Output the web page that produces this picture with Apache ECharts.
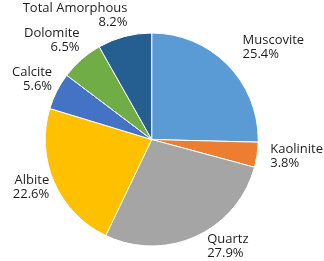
<!DOCTYPE html>
<html>
<head>
<meta charset="utf-8">
<script src="https://cdn.jsdelivr.net/npm/echarts@6/dist/echarts.min.js"></script>
<style>html,body{margin:0;padding:0;background:#fff;}#c{width:324px;height:261px;}</style>
</head>
<body>
<div id="c"></div>
<script>
const categories = ['Muscovite', 'Kaolinite', 'Quartz', 'Albite', 'Calcite', 'Dolomite', 'Total Amorphous'];
const percents = [25.4, 3.8, 27.9, 22.6, 5.6, 6.5, 8.2];
const colors = ['#5B9BD5', '#ED7D31', '#A5A5A5', '#FFC000', '#4472C4', '#70AD47', '#255E91'];

const W = 324, H = 261;
const CX = 151.7, CY = 139.5, R = 106.5;
const total = percents.reduce((a, b) => a + b, 0);

const chart = echarts.init(document.getElementById('c'), null, { renderer: 'canvas' });
chart.setOption({
  animation: false,
  series: [{
    type: 'pie',
    center: [CX, CY],
    radius: R,
    startAngle: 90,
    clockwise: true,
    avoidLabelOverlap: false,
    itemStyle: { borderColor: '#ffffff', borderWidth: 1 },
    label: {
      show: true,
      position: 'outside',
      fontFamily: 'Open Sans',
      fontSize: 13,
      lineHeight: 14,
      color: '#1e1e1e',
      formatter: p => p.name + '\n' + percents[p.dataIndex].toFixed(1) + '%'
    },
    labelLine: { show: false },
    emphasis: { disabled: true },
    labelLayout: function (params) {
      const i = params.dataIndex;
      let before = 0;
      for (let k = 0; k < i; k++) before += percents[k];
      const mid = (before + percents[i] / 2) / total * 2 * Math.PI;
      const dx = Math.sin(mid), dy = -Math.cos(mid);
      const w = params.labelRect.width, h = params.labelRect.height;
      const rr = R + 12;
      let x = CX + dx * rr + 6;
      let y = CY + dy * rr + Math.min(dy, 0) * h / 2;
      const align = dx >= 0 ? 'left' : 'right';
      if (align === 'left') { x = Math.min(x, W - w - 1); }
      else { x = Math.max(x, w + 1); }
      y = Math.max(h / 2 + 1, Math.min(H - h / 2 - 1, y));
      return { x: x, y: y, align: align, verticalAlign: 'middle' };
    },
    data: categories.map((c, i) => ({ name: c, value: percents[i], itemStyle: { color: colors[i] } }))
  }]
});
</script>
</body>
</html>
